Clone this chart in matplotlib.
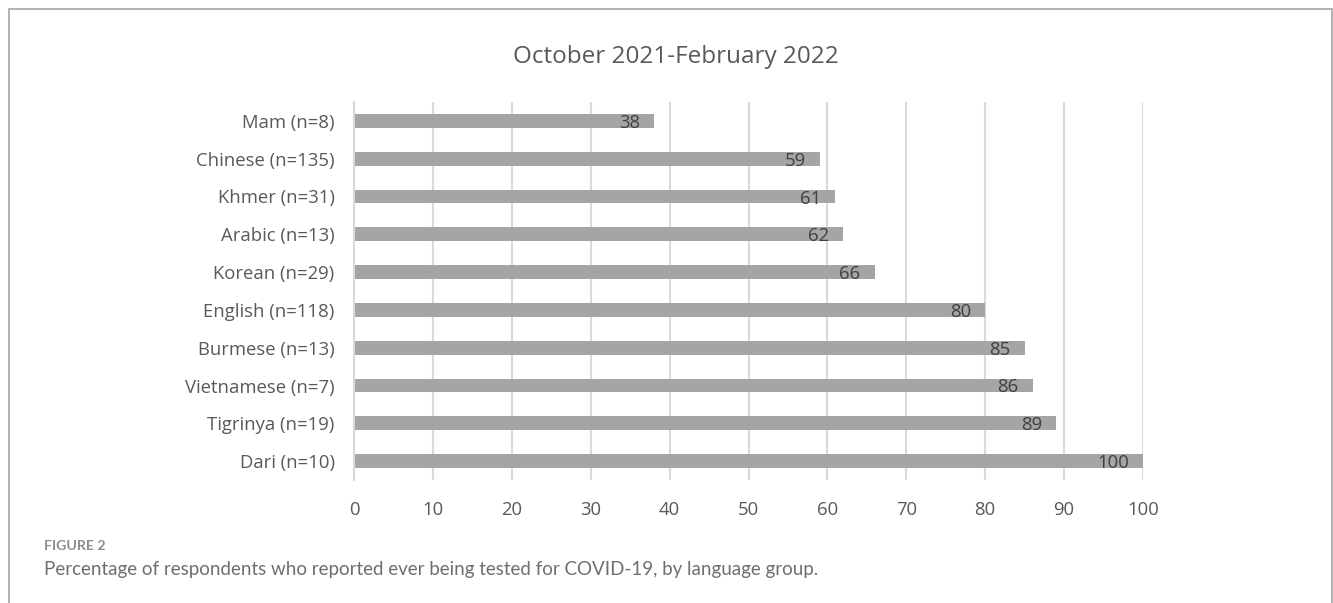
import numpy as np
import matplotlib.pyplot as plt
from matplotlib.patches import Rectangle

# data, top to bottom as drawn
languages = ['Mam (n=8)', 'Chinese (n=135)', 'Khmer (n=31)', 'Arabic (n=13)',
             'Korean (n=29)', 'English (n=118)', 'Burmese (n=13)',
             'Vietnamese (n=7)', 'Tigrinya (n=19)', 'Dari (n=10)']
pct_tested = [38, 59, 61, 62, 66, 80, 85, 86, 89, 100]
xticks = [0, 10, 20, 30, 40, 50, 60, 70, 80, 90, 100]

title = 'October 2021-February 2022'
fig_label = 'FIGURE 2'
caption = 'Percentage of respondents who reported ever being tested for COVID-19, by language group.'

CHART_FONT = 'Open Sans'
TXT = '#595959'
FS = 13.3

fig = plt.figure(figsize=(13.33, 6.03), dpi=100)
fig.patches.append(Rectangle((9 / 1333, -0.1), 1323 / 1333, 1.1 - 9 / 603,
                             transform=fig.transFigure, fill=False,
                             edgecolor='#a6a6a6', linewidth=1.2))

ax = fig.add_axes([354 / 1333, 1 - 480 / 603, 789 / 1333, 378 / 603])
y = np.arange(len(languages))
ax.barh(y, pct_tested, height=0.36, color='#a5a5a5', zorder=2)
for yi, v in zip(y, pct_tested):
    ax.annotate(str(v), (v, yi), xytext=(-14, 0), textcoords='offset pixels',
                ha='right', va='center_baseline', fontsize=FS, color='#404040',
                family=CHART_FONT, zorder=3)

ax.set_xlim(0, 100)
ax.set_ylim(len(languages) - 0.5, -0.5)
ax.set_yticks(y)
ax.set_yticklabels(languages, family=CHART_FONT, fontsize=FS, color=TXT)
ax.set_xticks(xticks)
ax.set_xticklabels([str(t) for t in xticks], family=CHART_FONT, fontsize=FS, color=TXT)
ax.tick_params(axis='both', length=0)
ax.tick_params(axis='y', pad=14)
ax.tick_params(axis='x', pad=15)
ax.grid(axis='x', color='#d9d9d9', linewidth=1.5, zorder=0)
for s in ['top', 'right', 'bottom']:
    ax.spines[s].set_visible(False)
ax.spines['left'].set_color('#d9d9d9')
ax.spines['left'].set_linewidth(1.5)

fig.text(676 / 1333, 1 - 57 / 603, title, ha='center', va='center',
         family=CHART_FONT, fontsize=17.5, color=TXT)
fig.text(44 / 1333, 1 - 546 / 603, fig_label, ha='left', va='center',
         family='Lato', fontweight='bold', fontsize=10.2, color='#8c8c8c')
fig.text(44 / 1333, 1 - 569 / 603, caption, ha='left', va='center',
         family='Lato', fontsize=13.5, color='#6e6e6e')

fig.savefig('out.png', dpi=100)
